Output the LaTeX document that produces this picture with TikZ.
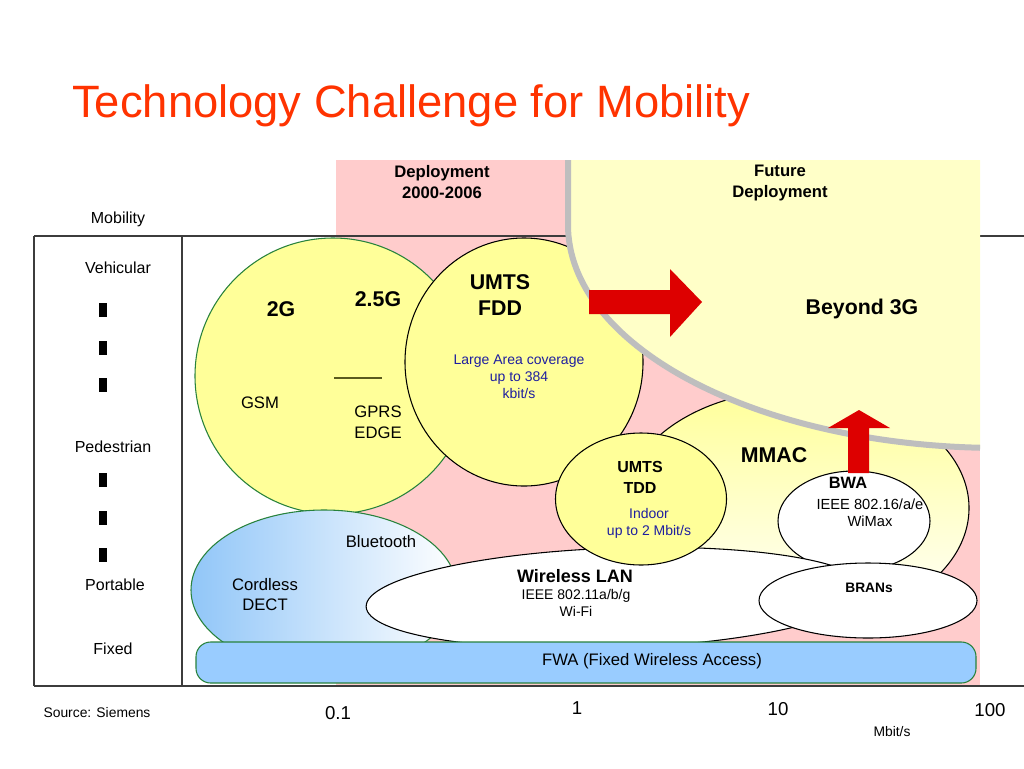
\documentclass[tikz,border=0pt]{standalone}
\usepackage{fontspec}
\setmainfont{Liberation Sans}
\definecolor{pinkbg}{RGB}{255,204,204}
\definecolor{yel}{RGB}{255,255,153}
\definecolor{futyel}{RGB}{255,255,200}
\definecolor{grn}{RGB}{40,130,60}
\definecolor{titlered}{RGB}{255,51,0}
\definecolor{bluetext}{RGB}{30,30,160}
\definecolor{fwablue}{RGB}{153,204,255}
\definecolor{arrowred}{RGB}{221,0,0}
\definecolor{grayline}{RGB}{190,190,190}
\definecolor{framec}{RGB}{60,60,60}
\definecolor{dectblue}{RGB}{145,198,248}
\definecolor{olive}{RGB}{90,90,30}
\begin{document}
\begin{tikzpicture}[x=0.75pt,y=-0.75pt,
  txt/.style={inner sep=0pt, align=center, font=\fontsize{12.5}{15}\selectfont},
  side/.style={inner sep=0pt, font=\fontsize{12}{14}\selectfont},
  big/.style={inner sep=0pt, align=center, font=\fontsize{16}{19.5}\selectfont\bfseries},
  head/.style={inner sep=0pt, align=center, font=\fontsize{12.5}{15.75}\selectfont\bfseries},
  bluet/.style={inner sep=0pt, align=center, text=bluetext, font=\fontsize{10.5}{12.75}\selectfont},
  small/.style={inner sep=0pt, align=center, font=\fontsize{10.5}{12.75}\selectfont},
  axis/.style={inner sep=0pt, font=\fontsize{14}{16}\selectfont},
  framel/.style={draw=framec, line width=1.1pt},
  bubble/.style={draw=black, line width=0.8pt},
  gbubble/.style={draw=grn, line width=0.8pt},
  dashmark/.style={fill=black},
  bigarrow/.style={fill=arrowred}
]
\useasboundingbox (0,0) rectangle (1024,768);
\fill[white] (0,0) rectangle (1024,768);

% pink deployment band
\fill[pinkbg] (336,160) rectangle (980,686);

% frame
\draw[framel] (34,236) -- (1024,236);
\draw[framel] (34,686) -- (1024,686);
\draw[framel] (34,236) -- (34,686);
\draw[framel] (182,236) -- (182,686);

% left dashes
\foreach \yy in {310,348,385,480,518,555}
  \fill[dashmark] (98.5,\yy-7) rectangle (106.5,\yy+7);

% 2G / 2.5G
\path[gbubble, fill=yel] (333,376) circle [radius=138];
\draw[olive, line width=0.8pt] (334,378) -- (382,378);

% UMTS FDD
\path[bubble, fill=yel] (524,362) ellipse [x radius=119, y radius=124];

% MMAC
\path[bubble, top color=yel, bottom color=white] (796,508) ellipse [x radius=173, y radius=118];

% BWA
\path[bubble, fill=white] (854,521) ellipse [x radius=76, y radius=50];

% DECT
\path[gbubble, left color=dectblue, right color=white] (324,590) ellipse [x radius=133, y radius=80];

% WLAN
\path[bubble, fill=white, rotate around={2:(616,598)}] (616,598) ellipse [x radius=250, y radius=50];

% UMTS TDD
\path[bubble, fill=yel] (641,499) ellipse [x radius=85.5, y radius=66];

% BRANs
\path[bubble, fill=white] (868,600.5) ellipse [x radius=109, y radius=37.5];

% FWA
\path[gbubble, fill=fwablue, rounded corners=11pt] (196,642) rectangle (976,683);

% future deployment region
\fill[futyel] (568,160) -- (568,225) arc[start angle=180, end angle=92.65, x radius=432, y radius=223] -- (980,160) -- cycle;
\draw[grayline, line width=4.5pt] (568,160) -- (568,225) arc[start angle=180, end angle=92.65, x radius=432, y radius=223];

% arrows
\fill[bigarrow] (589,290) -- (670,290) -- (670,269) -- (702,302) -- (670,337) -- (670,314) -- (589,314) -- cycle;
\fill[bigarrow] (848,473) -- (848,428) -- (828,428) -- (859,410) -- (890,428) -- (869,428) -- (869,473) -- cycle;

% title
\node[anchor=base west, inner sep=0pt, text=titlered, font=\fontsize{34}{40}\selectfont] (title) at (72,117) {Technology Challenge for Mobility};

% headers
\node[head] (dep) at (442,182.5) {Deployment\\2000-2006};
\node[head] (fut) at (780,182.5) {Future\\Deployment};

% side labels
\node[side] (mob) at (118,219) {Mobility};
\node[side] (veh) at (118,268) {Vehicular};
\node[side] (ped) at (113,447) {Pedestrian};
\node[side] (por) at (115,585) {Portable};
\node[side] (fix) at (113,649) {Fixed};

% bubble texts
\node[big] (g2) at (281,309) {2G};
\node[big] (g25) at (378,299) {2.5G};
\node[txt] (gsm) at (260,403) {GSM};
\node[txt, font=\fontsize{12.5}{15.5}\selectfont] (gprs) at (378,422.5) {GPRS\\EDGE};
\node[big] (fdd) at (500,295) {UMTS\\FDD};
\node[bluet] (lac) at (519,377) {Large Area coverage\\up to 384\\kbit/s};
\node[big] (b3g) at (862,309) {Beyond 3G};
\node[big] (mmac) at (774,455) {MMAC};
\node[head, font=\fontsize{12}{15.75}\selectfont\bfseries] (tdd) at (640,477.5) {UMTS\\TDD};
\node[bluet] (indoor) at (649,523.5) {Indoor\\up to 2 Mbit/s};
\node[head, font=\fontsize{12.3}{15}\selectfont\bfseries] (bwa) at (848,483) {BWA};
\node[small, font=\fontsize{11}{12.75}\selectfont] (ieee16) at (870,512.5) {IEEE 802.16/a/e\\WiMax};
\node[head, font=\fontsize{10.3}{12}\selectfont\bfseries] (brans) at (869,588) {BRANs};
\node[head, font=\fontsize{13.5}{16}\selectfont\bfseries] (wlan) at (575,576) {Wireless LAN};
\node[small] (ieee11) at (576,602.5) {IEEE 802.11a/b/g\\Wi-Fi};
\node[txt] (bt) at (381,542) {Bluetooth};
\node[txt] (dect) at (265,595) {Cordless\\DECT};
\node[txt] (fwa) at (652,661) {FWA (Fixed Wireless Access)};

% axis
\node[inner sep=0pt, font=\fontsize{10.4}{12}\selectfont] (src) at (97,713) {Source: Siemens};
\node[axis] (x01) at (338,713) {0.1};
\node[axis] (x1) at (577,708) {1};
\node[axis] (x10) at (778,709) {10};
\node[axis] (x100) at (990,710) {100};
\node[inner sep=0pt, font=\fontsize{10.4}{12}\selectfont] (mbit) at (892,732) {Mbit/s};
\end{tikzpicture}
\end{document}
